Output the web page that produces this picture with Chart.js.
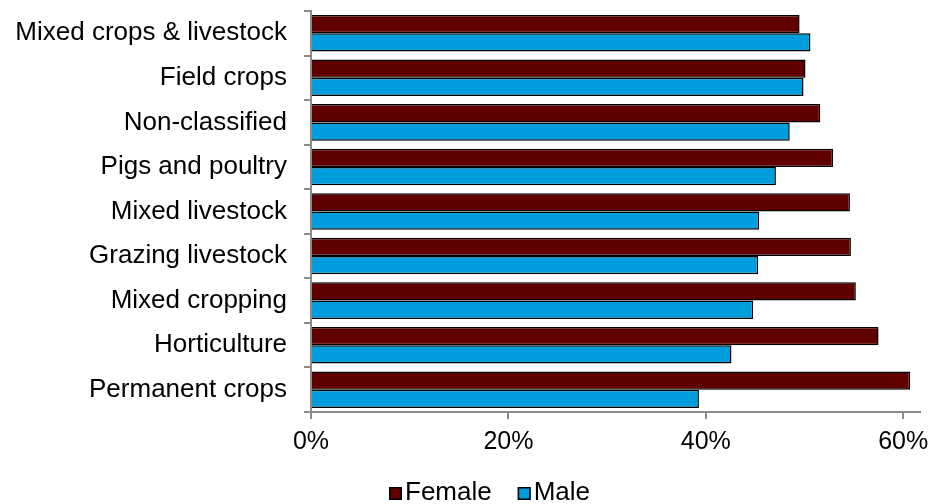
<!DOCTYPE html>
<html>
<head>
<meta charset="utf-8">
<script src="https://cdn.jsdelivr.net/npm/chart.js@4.4.0/dist/chart.umd.min.js"></script>
<style>
  html, body { margin: 0; padding: 0; background: #ffffff; }
  #wrap { width: 931px; height: 504px; position: relative; }
</style>
</head>
<body>
<div id="wrap"><canvas id="c" width="931" height="504"></canvas></div>
<script>
const categories = [
  "Mixed crops & livestock",
  "Field crops",
  "Non-classified",
  "Pigs and poultry",
  "Mixed livestock",
  "Grazing livestock",
  "Mixed cropping",
  "Horticulture",
  "Permanent crops"
];
const femaleValues = [49.5, 50.1, 51.6, 52.9, 54.6, 54.7, 55.2, 57.5, 60.7];
const maleValues   = [50.6, 49.9, 48.5, 47.1, 45.4, 45.3, 44.8, 42.6, 39.3];
const xTickValues  = [0, 20, 40, 60];
const seriesNames  = ["Female", "Male"];

const FONT = "'Liberation Sans', Arial, Helvetica, sans-serif";
const AXIS_GREY = "#8a8a8a";

const customLegend = {
  id: "customLegend",
  afterDraw(chart) {
    const ctx = chart.ctx;
    ctx.save();
    ctx.font = "26px " + FONT;
    ctx.textBaseline = "alphabetic";
    ctx.textAlign = "left";
    let x = 389;
    const boxTop = 487, box = 13, baseline = 500;
    chart.data.datasets.forEach((ds) => {
      ctx.fillStyle = ds.backgroundColor;
      ctx.fillRect(x, boxTop, box, box);
      ctx.lineWidth = 1.5;
      ctx.strokeStyle = "#000";
      ctx.strokeRect(x + 0.75, boxTop + 0.75, box - 1.5, box - 1.5);
      ctx.fillStyle = "#000";
      ctx.fillText(ds.label, x + 16, baseline);
      x = x + 16 + ctx.measureText(ds.label).width + 26;
    });
    ctx.restore();
  }
};

new Chart(document.getElementById("c"), {
  type: "bar",
  data: {
    labels: categories,
    datasets: [
      {
        label: seriesNames[0],
        data: femaleValues,
        backgroundColor: "#600000",
        borderColor: "#000000",
        borderWidth: 1.5,
        categoryPercentage: 0.82,
        barPercentage: 1.0
      },
      {
        label: seriesNames[1],
        data: maleValues,
        backgroundColor: "#009ddc",
        borderColor: "#000000",
        borderWidth: 1.5,
        categoryPercentage: 0.82,
        barPercentage: 1.0
      }
    ]
  },
  options: {
    indexAxis: "y",
    responsive: false,
    animation: false,
    devicePixelRatio: 1,
    layout: { padding: { top: 11, right: 11, bottom: 39, left: 0 } },
    plugins: {
      legend: { display: false },
      tooltip: { enabled: false }
    },
    scales: {
      x: {
        min: 0,
        max: 61.7,
        afterBuildTicks(scale) {
          scale.ticks = xTickValues.map(v => ({ value: v }));
        },
        afterFit(scale) {
          scale.paddingLeft = 0;
          scale.paddingRight = 0;
        },
        ticks: {
          color: "#000",
          font: { family: FONT, size: 25 },
          padding: 8,
          maxRotation: 0,
          callback: (v) => v + "%"
        },
        grid: {
          drawOnChartArea: false,
          drawTicks: true,
          tickLength: 7,
          color: AXIS_GREY,
          lineWidth: 2
        },
        border: { display: true, color: AXIS_GREY, width: 2 }
      },
      y: {
        afterFit(scale) {
          scale.width = 311;
          scale.paddingTop = 0;
          scale.paddingBottom = 0;
        },
        ticks: {
          color: "#000",
          font: { family: FONT, size: 26 },
          padding: 17,
          autoSkip: false
        },
        grid: {
          offset: true,
          drawOnChartArea: false,
          drawTicks: true,
          tickLength: 7,
          color: AXIS_GREY,
          lineWidth: 2
        },
        border: { display: true, color: AXIS_GREY, width: 2 }
      }
    }
  },
  plugins: [customLegend]
});
</script>
</body>
</html>
